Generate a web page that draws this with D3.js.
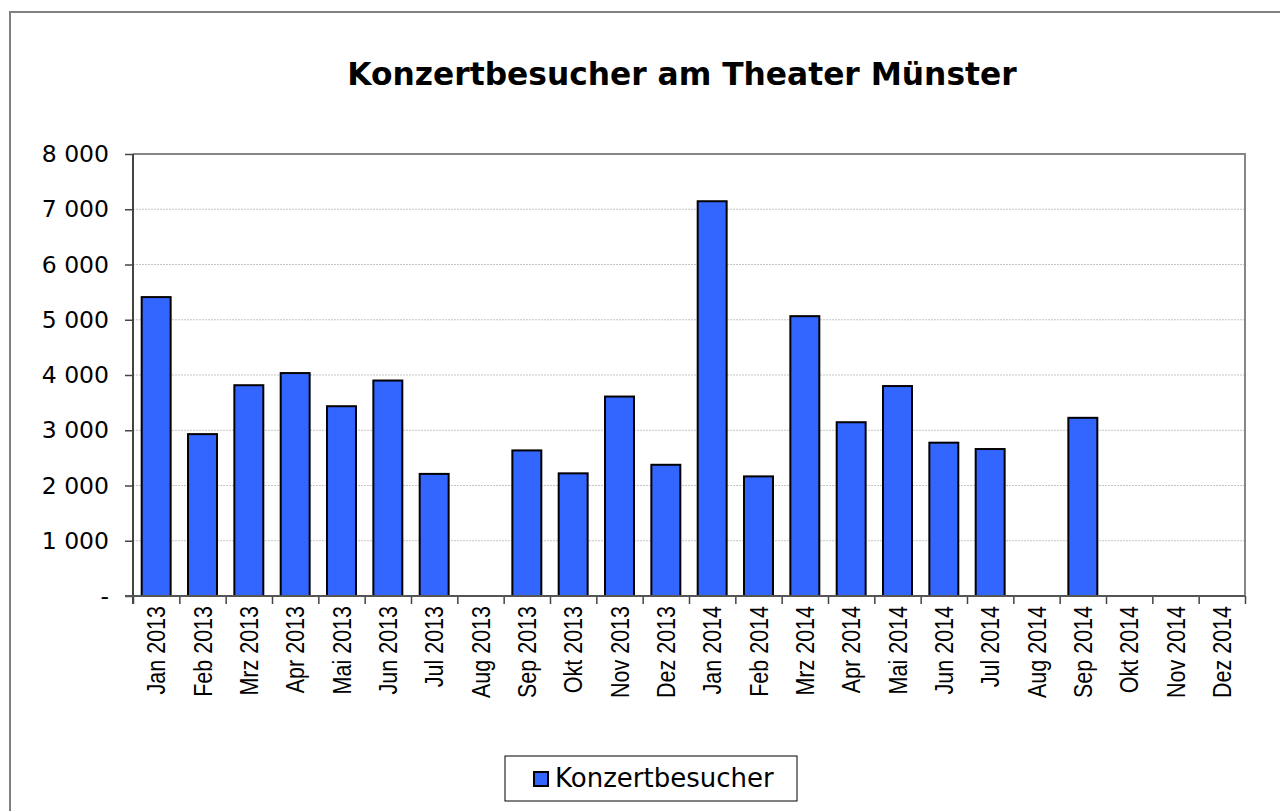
<!DOCTYPE html>
<html>
<head>
<meta charset="utf-8">
<script src="https://cdn.jsdelivr.net/npm/d3@7"></script>
<style>
  html, body { margin: 0; padding: 0; background: #fff; }
  svg { display: block; }
</style>
</head>
<body>
<svg id="chart" width="1280" height="811"></svg>
<script>
const titleText = "Konzertbesucher am Theater Münster";
const seriesName = "Konzertbesucher";
const categories = [
  "Jan 2013","Feb 2013","Mrz 2013","Apr 2013","Mai 2013","Jun 2013",
  "Jul 2013","Aug 2013","Sep 2013","Okt 2013","Nov 2013","Dez 2013",
  "Jan 2014","Feb 2014","Mrz 2014","Apr 2014","Mai 2014","Jun 2014",
  "Jul 2014","Aug 2014","Sep 2014","Okt 2014","Nov 2014","Dez 2014"
];
const values = [
  5410, 2930, 3815, 4035, 3435, 3900,
  2210, 0, 2635, 2220, 3610, 2375,
  7145, 2165, 5065, 3145, 3800, 2775,
  2660, 0, 3225, 0, 0, 0
];
const yTicks = [0, 1000, 2000, 3000, 4000, 5000, 6000, 7000, 8000];

const svg = d3.select("#chart");
const font = "'DejaVu Sans', Verdana, sans-serif";
const barColor = "#3366FF";

// outer chart border (extends beyond the visible area)
svg.append("rect")
  .attr("x", 10).attr("y", 12)
  .attr("width", 1300).attr("height", 830)
  .attr("fill", "#fff")
  .attr("stroke", "#808080").attr("stroke-width", 2);

const plot = { left: 133, right: 1245, top: 154, bottom: 596 };

const x = d3.scaleBand()
  .domain(categories)
  .range([plot.left, plot.right])
  .paddingInner(0.375)
  .paddingOuter(0.1875);

const xb = d3.scaleLinear()
  .domain([0, categories.length])
  .range([plot.left, plot.right]);

const y = d3.scaleLinear()
  .domain([0, 8000])
  .range([plot.bottom, plot.top]);

// gridlines
svg.append("g")
  .selectAll("line")
  .data(yTicks.filter(d => d > 0 && d < 8000))
  .join("line")
  .attr("x1", plot.left).attr("x2", plot.right)
  .attr("y1", d => y(d)).attr("y2", d => y(d))
  .attr("stroke", "#c4c4c4")
  .attr("stroke-width", 1)
  .attr("stroke-dasharray", "2,1");

// plot area top & right border
svg.append("path")
  .attr("d", `M${plot.left},${y(8000)}H${plot.right}V${plot.bottom}`)
  .attr("fill", "none")
  .attr("stroke", "#868686")
  .attr("stroke-width", 2);

// bars
svg.append("g")
  .selectAll("rect")
  .data(values.map((v, i) => ({ c: categories[i], v })).filter(d => d.v > 0))
  .join("rect")
  .attr("x", d => x(d.c))
  .attr("y", d => y(d.v))
  .attr("width", x.bandwidth())
  .attr("height", d => y(0) - y(d.v))
  .attr("fill", barColor)
  .attr("stroke", "#000")
  .attr("stroke-width", 2);

// y axis
const fmt = v => v === 0 ? "-" : d3.format(",")(v).replace(/,/g, " ");
const yAxis = svg.append("g")
  .attr("transform", `translate(${plot.left},0)`)
  .call(d3.axisLeft(y).tickValues(yTicks).tickSize(8).tickPadding(16).tickFormat(fmt));
yAxis.select(".domain").remove();
yAxis.selectAll(".tick line").attr("stroke", "#444").attr("stroke-width", 1.5);
yAxis.selectAll(".tick text")
  .attr("font-family", font).attr("font-size", 23.5).attr("fill", "#000");

// x axis ticks at category boundaries
const xAxis = svg.append("g")
  .attr("transform", `translate(0,${plot.bottom})`)
  .call(d3.axisBottom(xb).tickValues(d3.range(0, categories.length + 1)).tickSize(8).tickFormat(""));
xAxis.select(".domain").remove();
xAxis.selectAll(".tick line").attr("stroke", "#444").attr("stroke-width", 1.5);

// axis lines
svg.append("line")
  .attr("x1", plot.left).attr("x2", plot.left)
  .attr("y1", y(8000)).attr("y2", plot.bottom + 8)
  .attr("stroke", "#444").attr("stroke-width", 2);
svg.append("line")
  .attr("x1", plot.left - 8).attr("x2", plot.right)
  .attr("y1", plot.bottom).attr("y2", plot.bottom)
  .attr("stroke", "#555").attr("stroke-width", 2);

// x labels (slightly widened glyphs like the reference)
svg.append("g")
  .selectAll("text")
  .data(categories)
  .join("text")
  .attr("transform", d => `translate(${x(d) + x.bandwidth() / 2},${plot.bottom + 10}) rotate(-90) scale(1,1.2)`)
  .attr("text-anchor", "end")
  .attr("dy", "0.36em")
  .attr("font-family", "'Liberation Sans', Arial, sans-serif")
  .attr("font-size", 21.5)
  .attr("fill", "#000")
  .text(d => d);

// title
svg.append("text")
  .attr("x", 682).attr("y", 85)
  .attr("text-anchor", "middle")
  .attr("font-family", font)
  .attr("font-weight", "bold")
  .attr("font-size", 31.3)
  .attr("fill", "#000")
  .text(titleText);

// legend
const lg = svg.append("g");
lg.append("rect")
  .attr("x", 505).attr("y", 756).attr("width", 292).attr("height", 45)
  .attr("fill", "#fff").attr("stroke", "#000").attr("stroke-width", 1);
lg.append("rect")
  .attr("x", 534).attr("y", 772).attr("width", 14).attr("height", 14)
  .attr("fill", barColor).attr("stroke", "#000").attr("stroke-width", 2);
lg.append("text")
  .attr("x", 555).attr("y", 787)
  .attr("font-family", font).attr("font-size", 26).attr("fill", "#000")
  .text(seriesName);
</script>
</body>
</html>
